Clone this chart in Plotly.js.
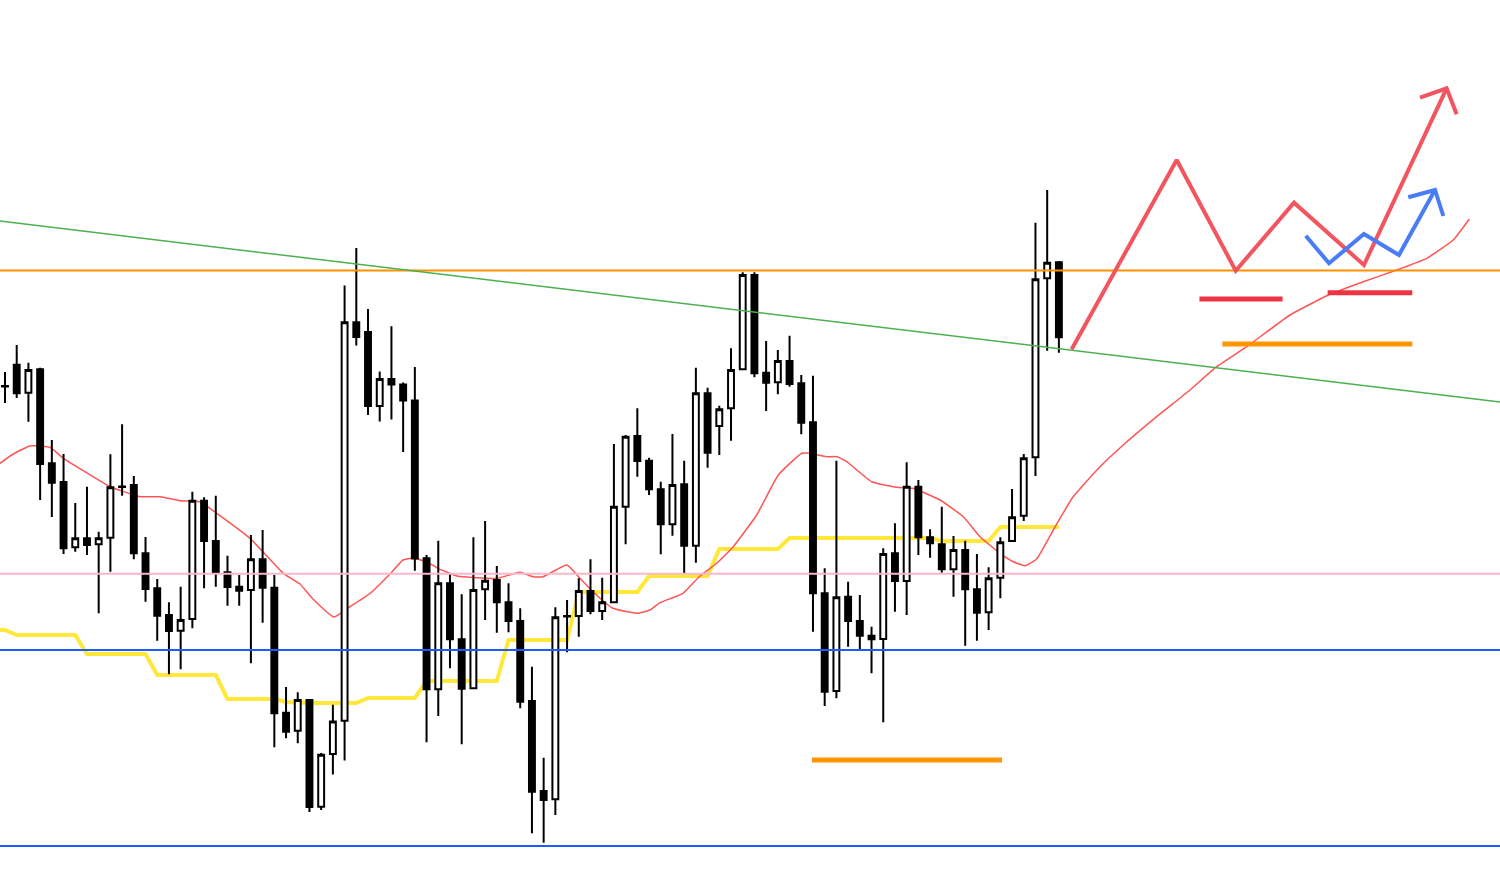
<!DOCTYPE html>
<html>
<head>
<meta charset="utf-8">
<script src="https://cdn.plot.ly/plotly-3.0.1.min.js"></script>
<style>
html,body{margin:0;padding:0;background:#fff;}
#chart{width:1500px;height:872px;}
</style>
</head>
<body>
<div id="chart"></div>
<script>
// ---- Candles (price in chart points) ----
const opens  = [486,507.3,479.3,502.7,408.7,390,324.7,333.7,327.7,334.3,385.5,387,318.7,283.7,257,241.3,253,371.3,331,299.7,285.3,282,312.7,284.3,159.3,141.3,172,65.3,118,151.3,549.8,540.1,466,493.1,487.6,471.6,313.7,182.7,288.7,232.7,183.7,282.7,292,269.7,251,171,81,72.7,256,256,281,261,269.7,365.3,436,411.3,382.7,347.7,387.7,326.3,478.7,446,463.7,502.7,597,499.3,489.7,511,488.7,449.7,278.7,181,275.3,251,236.3,233,318.7,291,385.3,334.7,327.7,302.7,322,282.7,259.7,294.3,331,356.3,414.7,593.7,609.7];
const highs  = [500,527,509.3,504.3,432,418,369,385.3,340.3,417.7,447.7,396,335,293,269.7,285.3,380.3,374.7,376.3,316.3,297,337,342,297,185,179.7,172,119,167.2,586.4,624,563,500.5,545.7,489.4,505,317,331.3,298,277.7,334.7,351,306,288.7,263.7,205.3,114.3,264.7,272,293.7,312.7,294.3,428,437,463.7,414.3,390.3,438,411.3,504.3,484.3,466.3,523.7,599.7,599.7,531,522,536.3,497,496.3,303.7,411.3,290.3,277,245.3,323.7,348.7,409.7,392,342.7,365.3,336,331.3,318,304.7,334.7,383,418,649.3,682,611];
const lows   = [469,474,450.3,372,355,318,320.3,317,258.7,300.3,376.3,312.7,270.3,231.3,197.7,202.7,243.7,283.7,285.3,266.3,266.3,208.7,249.3,124.7,133.7,128.7,60,62,97.6,111.6,526.4,457,450.5,452.4,420.1,301.3,129.7,156,203.7,127.7,183.7,252,239.3,239.7,163.7,38.7,29.3,57,219.7,235.3,257.7,252,269.7,327.7,395.3,377,317.7,336.3,298.7,309.3,404.3,417,431.3,502.7,494.7,461,477.7,485.3,437.7,240.3,166,173.7,225.3,222.7,198.7,149.7,260.3,257,317,314.3,299.3,275.3,226.3,231.3,242,273.7,331,351,396,521.3,519.3];
const closes = [485.6,478.7,502,408,389.3,323.7,333.7,327,333.7,384.7,385,318.7,283,256.3,241,252,371.3,331,299.3,285,281.3,312.7,284.3,158.7,140.3,172,65,117.2,150.5,549.8,535,466,493.1,487.6,471.6,313.5,182.7,288.7,232.7,183.3,282,291.3,269.7,251,170.3,80.3,72,254.7,255.6,281,261,269.7,365.3,435.3,411,382.7,347.7,387,326.3,478.7,419.3,462.7,502,597,498.7,489.3,511,488,449.3,278.7,180.3,274.7,251,236.3,232.7,318,291,385.3,334.7,328.7,302.7,322,282.7,259.3,293.7,329.7,354.7,413.7,592.7,609.3,534.7];

// ---- Step line (yellow), one value per candle, starting one candle before the first ----
const stepLine = [242,242,237,237,237,237,237,237,218,218,218,218,218,218,197,197,197,197,197,197,173,173,173,173,173,170,169,169,169,169,169,169,174,174,174,174,174,191,191,191,191,191,191,191,232,232,232,232,232,232,280,280,280,280,280,280,296,296,296,296,296,296,323,323,323,323,323,323,334,334,334,334,334,334,334,334,334,334,334,334,334,331,331,331,331,331,345,345,345,345,345,345];

// ---- Displaced moving average (red) : position in candles, value ----
const maX = [-0.43,0.71,2.13,3.84,4.98,6.69,8.97,11.53,13.24,14.94,16.65,18.08,20.92,23.77,25.19,26.3,28.1,29.46,31.17,32.88,33.99,34.84,36.04,36.89,38.6,42.02,43.98,45.09,45.94,47.99,49.1,50.21,51.92,53.97,55.08,55.94,57.9,59.35,60.78,62.19,64.19,66.04,68.04,68.74,70.17,71.03,71.88,74.01,76.15,77.54,79.85,81.84,83.26,84.97,86.11,87.11,88.1,89.67,91.2,93.51,95.5,98.35,101.2,103.47,106.04,109.74,113.15,116,118.85,121.41,123.68,125.05];
const maY = [408.7,418,426,424.7,413.7,401.3,385.3,375.3,375.3,371.3,370.3,358.7,333.7,298.7,288,273,255,265.3,278.5,298,312,314,310,304.2,296,293.7,299.7,295.3,295.3,307,293.7,280.3,263.7,258.7,262,269.3,278.7,296,308.7,325.3,357,397,418.7,418.7,415.3,415.3,410.3,390.3,384.7,383.7,372,355.3,335.3,318.7,310.3,306.3,313,345,375,405.3,427,455.3,482,505.3,525.3,557,577.7,590.3,602,613.7,632,653];

// ---- Horizontal levels ----
const levelOrange = 601.5;
const levelPink = 298.3;
const levelBlueUpper = 222;
const levelBlueLower = 26;

// ---- Trend line (green) ----
const trendX = [-0.43, 127.67];
const trendY = [651, 470];

// ---- Scenario drawings ----
const redPathX = [91.09,100.06,105.1,110.08,116.05,123.11];
const redPathY = [522.7,712,601.3,669.3,607,783.7];
const redHeadX = [120.84,123.11,123.97];
const redHeadY = [774.3,783.7,757.7];
const bluePathX = [111.08,113.07,116.05,119.04,122.12];
const bluePathY = [636.3,608.7,638,617,682];
const blueHeadX = [119.84,122.12,122.83];
const blueHeadY = [674.7,682,656];
const redBar1X = [102.0,109.1];  const redBar1Y = [573,573];
const redBar2X = [112.95,120.18]; const redBar2Y = [579.3,579.3];
const orangeBar1X = [103.96,120.18]; const orangeBar1Y = [528,528];
const orangeBar2X = [68.92,85.14]; const orangeBar2Y = [112,112];

const XR = [-0.427, 127.67];
const YR = [0, 872];

const candleIdx = opens.map((_, i) => i);
const stepX = stepLine.map((_, i) => i - 1);

function ln(x, y, color, width, axes, extra) {
  return Object.assign({
    type: 'scatter', mode: 'lines', x: x, y: y,
    line: {color: color, width: width},
    hoverinfo: 'skip', showlegend: false,
    xaxis: axes[0], yaxis: axes[1]
  }, extra || {});
}
const axBase = ['x', 'y'], axTop = ['x3', 'y3'];

const traces = [
  ln(stepX, stepLine, '#FFE83A', 4, axBase),
  ln(maX, maY, '#FF5555', 1.5, axBase, {line: {color: '#FF5555', width: 1.5, shape: 'spline', smoothing: 0.4}}),
  {
    type: 'candlestick', x: candleIdx, open: opens, high: highs, low: lows, close: closes,
    xaxis: 'x2', yaxis: 'y2', whiskerwidth: 0, showlegend: false, hoverinfo: 'skip',
    increasing: {line: {color: '#000000', width: 2}, fillcolor: '#FFFFFF'},
    decreasing: {line: {color: '#000000', width: 2}, fillcolor: '#000000'}
  },
  ln(XR, [levelOrange, levelOrange], '#FF9100', 2, axTop),
  ln(XR, [levelPink, levelPink], '#F7B8CB', 2, axTop),
  ln(XR, [levelBlueUpper, levelBlueUpper], '#1E5BFF', 2, axTop),
  ln(XR, [levelBlueLower, levelBlueLower], '#1E5BFF', 2, axTop),
  ln(trendX, trendY, '#4CAF50', 1.5, axTop),
  ln(orangeBar1X, orangeBar1Y, '#FF9500', 5, axTop),
  ln(orangeBar2X, orangeBar2Y, '#FF9500', 5, axTop),
  ln(redBar1X, redBar1Y, '#EE3344', 5, axTop),
  ln(redBar2X, redBar2Y, '#EE3344', 5, axTop),
  ln(redPathX, redPathY, '#F25560', 4, axTop),
  ln(redHeadX, redHeadY, '#F25560', 4, axTop),
  ln(bluePathX, bluePathY, '#4A7CF6', 4, axTop),
  ln(blueHeadX, blueHeadY, '#4A7CF6', 4, axTop)
];

const hidden = {visible: false, fixedrange: true};
const layout = {
  width: 1500, height: 872,
  margin: {l: 0, r: 0, t: 0, b: 0, pad: 0},
  paper_bgcolor: '#FFFFFF', plot_bgcolor: '#FFFFFF',
  showlegend: false,
  boxgap: 0.28,
  xaxis: Object.assign({range: XR}, hidden),
  yaxis: Object.assign({range: YR}, hidden),
  xaxis2: Object.assign({range: XR, overlaying: 'x', anchor: 'y2', rangeslider: {visible: false}}, hidden),
  yaxis2: Object.assign({range: YR, overlaying: 'y', anchor: 'x2'}, hidden),
  xaxis3: Object.assign({range: XR, overlaying: 'x', anchor: 'y3'}, hidden),
  yaxis3: Object.assign({range: YR, overlaying: 'y', anchor: 'x3'}, hidden)
};

Plotly.newPlot('chart', traces, layout, {displayModeBar: false, staticPlot: true});
</script>
</body>
</html>
